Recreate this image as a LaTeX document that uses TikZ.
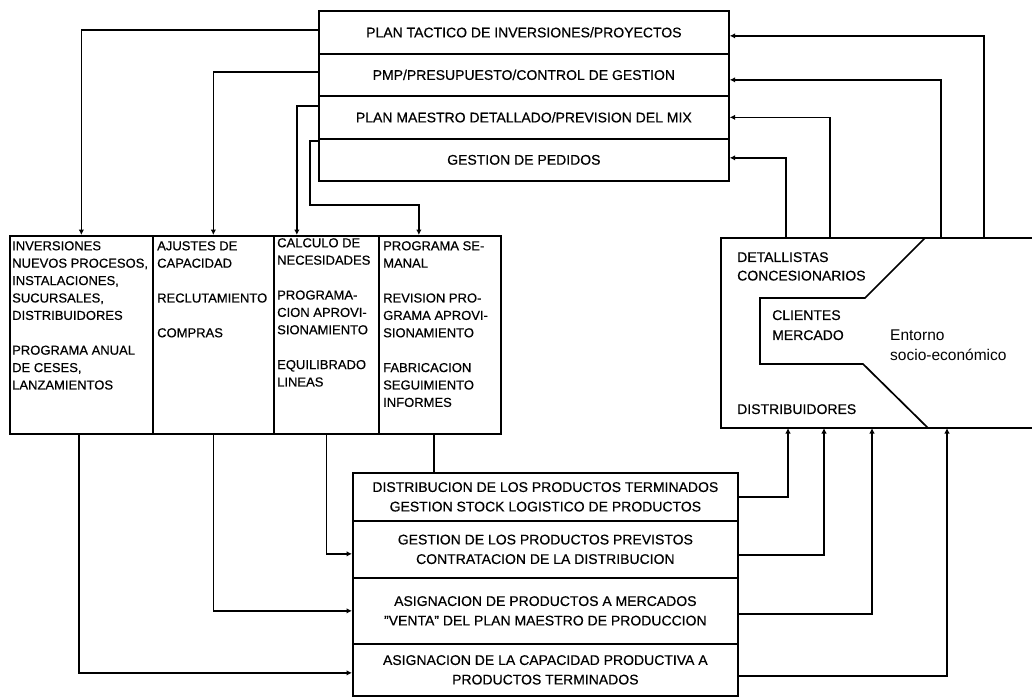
\documentclass[tikz,border=0pt]{standalone}
\usepackage{fontspec}
\setmainfont{Liberation Sans}[FakeBold=0.5]
\newfontfamily\plainfont{Liberation Sans}
\usetikzlibrary{arrows.meta,calc}
\begin{document}
\begin{tikzpicture}[x=1pt,y=-1pt,
  boxline/.style={line width=1.7pt},
  box/.style={draw, boxline, inner sep=0pt, anchor=north west},
  rowtxt/.style={font=\fontsize{14}{19.5}\selectfont, align=center},
  ltxt/.style={font=\fontsize{13}{17.4}\selectfont, align=left, inner sep=0pt, anchor=north west},
  etxt/.style={font=\fontsize{14}{18.5}\selectfont, align=left, inner sep=0pt, anchor=north west},
  conn/.style={line width=1.5pt},
  arr/.style={conn, -{Latex[length=5.5pt,width=5.5pt]}}]
\useasboundingbox (0,0) rectangle (1032,697);

% top stack
\node[box, rowtxt, minimum width=410pt, minimum height=43pt] (t1) at (318,10) {PLAN TACTICO DE INVERSIONES/PROYECTOS};
\node[box, rowtxt, minimum width=410pt, minimum height=42pt] (t2) at (318,53) {PMP/PRESUPUESTO/CONTROL DE GESTION};
\node[box, rowtxt, minimum width=410pt, minimum height=43pt] (t3) at (318,95) {PLAN MAESTRO DETALLADO/PREVISION DEL MIX};
\node[box, rowtxt, minimum width=410pt, minimum height=42pt] (t4) at (318,138) {GESTION DE PEDIDOS};

% left boxes
\node[box, minimum width=143pt, minimum height=198pt] (l1) at (9,235) {};
\node[box, minimum width=121pt, minimum height=198pt] (l2) at (152,235) {};
\node[box, minimum width=105pt, minimum height=198pt] (l3) at (273,235) {};
\node[box, minimum width=122pt, minimum height=198pt] (l4) at (378,235) {};
\node[ltxt] (l1t) at ($(l1.north west)+(3,6)$) {INVERSIONES\\NUEVOS PROCESOS,\\INSTALACIONES,\\SUCURSALES,\\DISTRIBUIDORES\\[17.4pt]PROGRAMA ANUAL\\DE CESES,\\LANZAMIENTOS};
\node[ltxt] (l2t) at ($(l2.north west)+(5,6)$) {AJUSTES DE\\CAPACIDAD\\[17.4pt]RECLUTAMIENTO\\[17.4pt]COMPRAS};
\node[ltxt] (l3t) at ($(l3.north west)+(4,3)$) {CALCULO DE\\NECESIDADES\\[17.4pt]PROGRAMA-\\CION APROVI-\\SIONAMIENTO\\[17.4pt]EQUILIBRADO\\LINEAS};
\node[ltxt] (l4t) at ($(l4.north west)+(5,6)$) {PROGRAMA SE-\\MANAL\\[17.4pt]REVISION PRO-\\GRAMA APROVI-\\SIONAMIENTO\\[17.4pt]FABRICACION\\SEGUIMIENTO\\INFORMES};

% bottom stack
\node[box, rowtxt, minimum width=385pt, minimum height=48pt] (b1) at (352,472) {DISTRIBUCION DE LOS PRODUCTOS TERMINADOS\\GESTION STOCK LOGISTICO DE PRODUCTOS};
\node[box, rowtxt, minimum width=385pt, minimum height=57pt] (b2) at (352,520) {GESTION DE LOS PRODUCTOS PREVISTOS\\CONTRATACION DE LA DISTRIBUCION};
\node[box, rowtxt, minimum width=385pt, minimum height=66pt] (b3) at (352,577) {ASIGNACION DE PRODUCTOS A MERCADOS\\"VENTA" DEL PLAN MAESTRO DE PRODUCCION};
\node[box, rowtxt, minimum width=385pt, minimum height=52pt] (b4) at (352,643) {ASIGNACION DE LA CAPACIDAD PRODUCTIVA A\\PRODUCTOS TERMINADOS};

% environment box (open to the right)
\node[inner sep=0pt, outer sep=0pt, minimum width=311pt, minimum height=190pt, anchor=north west] (env) at (721,238) {};
\draw[boxline] (env.north east) -- (env.north west) -- (env.south west) -- (env.south east);
\draw[boxline] (925,238) -- (865,298) -- (760,298) -- (760,364) -- (863,364) -- (928,428);
\node[etxt] (det) at (737,252) {DETALLISTAS\\CONCESIONARIOS};
\node[etxt, font=\fontsize{14}{20}\selectfont] (cli) at (772,310) {CLIENTES\\MERCADO};
\node[etxt, font=\plainfont\fontsize{15.5}{20}\selectfont] (ent) at (890,330) {Entorno\\socio-económico};
\node[etxt] (dis) at (737,404) {DISTRIBUIDORES};

% connectors: top stack -> left boxes
\draw[arr] ([yshift=2.5pt]t1.west) -| (l1.north);
\draw[arr] ([yshift=3pt]t2.west) -| (l2.north);
\draw[arr] ([yshift=11.5pt]t3.west) -| ([xshift=-29.5pt]l3.north);
\draw[arr] ([yshift=-3pt]t4.north west) -- ++(-8,0) -- ++(0,64) -| ([xshift=-21pt]l4.north);

% environment -> top stack
\draw[arr] ([xshift=263pt]env.north west) |- ([yshift=-3.5pt]t1.east);
\draw[arr] ([xshift=220pt]env.north west) |- ([yshift=-5pt]t2.east);
\draw[arr] ([xshift=109pt]env.north west) |- (t3.east);
\draw[arr] ([xshift=65pt]env.north west) |- ([yshift=2pt]t4.east);

% bottom stack -> environment
\draw[arr] (b1.east) -| ([xshift=67pt]env.south west);
\draw[arr] ([yshift=-5.5pt]b2.east) -| ([xshift=103pt]env.south west);
\draw[arr] ([yshift=-3pt]b3.east) -| ([xshift=151pt]env.south west);
\draw[arr] ([yshift=-6pt]b4.east) -| ([xshift=226pt]env.south west);

% left boxes -> bottom stack
\draw[arr] ([xshift=-2.5pt]l1.south) |- ([yshift=-3pt]b4.west);
\draw[arr] (l2.south) |- (b3.west);
\draw[arr] (l3.south) |- ([yshift=-4.5pt]b2.west);
\coordinate (l4o) at ([xshift=-6pt]l4.south);
\draw[conn] (l4o) -- (l4o |- b1.north);
\end{tikzpicture}
\end{document}
